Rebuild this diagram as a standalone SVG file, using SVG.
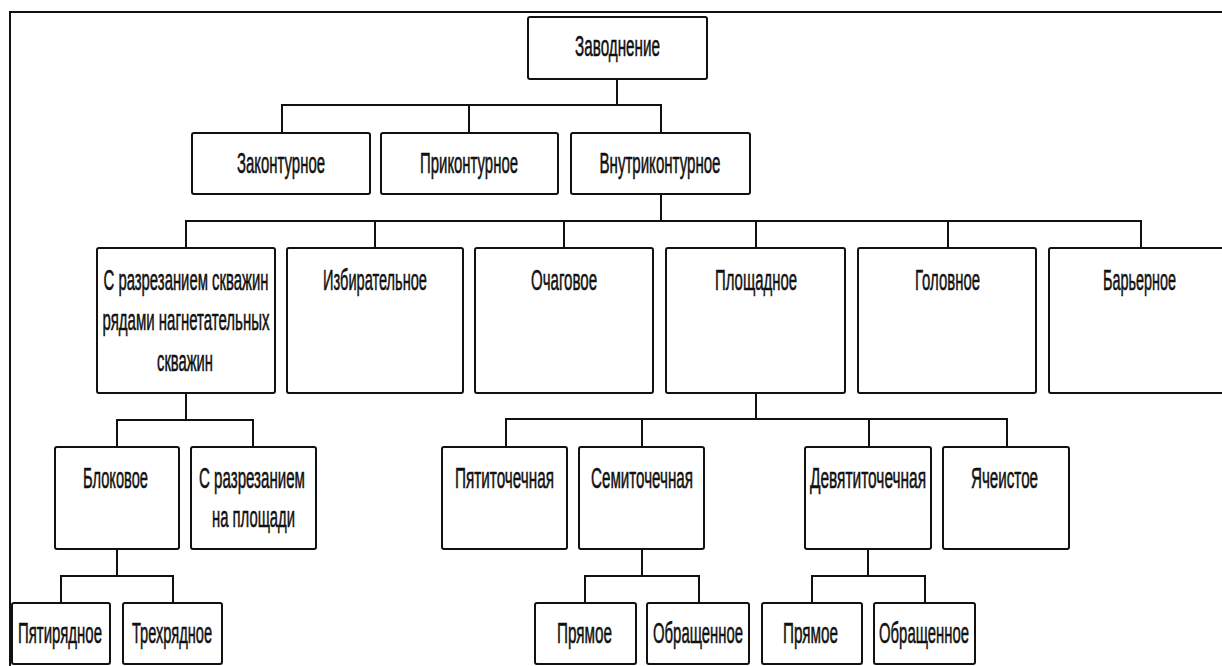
<svg xmlns="http://www.w3.org/2000/svg" width="1222" height="666" viewBox="0 0 1222 666">
<style>
.box{fill:#fff;stroke:#111;stroke-width:2}
.ln{fill:none;stroke:#111;stroke-width:2}
text{font-family:"Liberation Sans",Arial,sans-serif;font-size:30px;fill:#111;stroke:#111;stroke-width:0.6;text-anchor:middle}
</style>
<rect width="1222" height="666" fill="#fff"/>
<path class="ln" d="M10,666 V12 H1222"/>
<g id="connectors">
<path class="ln" d="M617,79 V105 M282,133 V105 H661 V133 M469,105 V133"/>
<path class="ln" d="M661,194 V221 M186,248 V221 H1141 V248 M375,221 V248 M564,221 V248 M756,221 V248 M948,221 V248"/>
<path class="ln" d="M186,393 V420 M117,447 V420 H253 V447"/>
<path class="ln" d="M756,393 V419 M506,447 V419 H1007 V447 M642,419 V447 M869,419 V447"/>
<path class="ln" d="M117,549 V576 M61,603 V576 H173 V603"/>
<path class="ln" d="M642,549 V576 M585,603 V576 H699 V603"/>
<path class="ln" d="M868,549 V576 M812,603 V576 H925 V603"/>
</g>
<g id="n-root"><rect class="box" x="528" y="17" width="179" height="62" rx="2"/><text transform="translate(617.5,56) scale(0.55,1)" textLength="154.5" lengthAdjust="spacingAndGlyphs">Заводнение</text></g>
<g id="n-zakont"><rect class="box" x="192" y="133" width="178" height="61" rx="2"/><text transform="translate(281,173) scale(0.55,1)" textLength="160" lengthAdjust="spacingAndGlyphs">Законтурное</text></g>
<g id="n-prikont"><rect class="box" x="381" y="133" width="177" height="61" rx="2"/><text transform="translate(469,173) scale(0.55,1)" textLength="178" lengthAdjust="spacingAndGlyphs">Приконтурное</text></g>
<g id="n-vnutr"><rect class="box" x="571" y="133" width="179" height="61" rx="2"/><text transform="translate(660,173) scale(0.55,1)" textLength="220" lengthAdjust="spacingAndGlyphs">Внутриконтурное</text></g>
<g id="n-razrez"><rect class="box" x="97" y="248" width="178" height="145" rx="2"/>
<text transform="translate(186,290) scale(0.55,1)" textLength="300" lengthAdjust="spacingAndGlyphs">С разрезанием скважин</text>
<text transform="translate(186,330) scale(0.55,1)" textLength="303.6" lengthAdjust="spacingAndGlyphs">рядами нагнетательных</text>
<text transform="translate(185,371) scale(0.55,1)" textLength="101.8" lengthAdjust="spacingAndGlyphs">скважин</text></g>
<g id="n-izbir"><rect class="box" x="287" y="248" width="176" height="145" rx="2"/><text transform="translate(375,290) scale(0.55,1)" textLength="189" lengthAdjust="spacingAndGlyphs">Избирательное</text></g>
<g id="n-ochag"><rect class="box" x="475" y="248" width="178" height="145" rx="2"/><text transform="translate(564,290) scale(0.55,1)" textLength="120" lengthAdjust="spacingAndGlyphs">Очаговое</text></g>
<g id="n-plosh"><rect class="box" x="666" y="248" width="179" height="145" rx="2"/><text transform="translate(756,290) scale(0.55,1)" textLength="149" lengthAdjust="spacingAndGlyphs">Площадное</text></g>
<g id="n-golov"><rect class="box" x="858" y="248" width="178" height="145" rx="2"/><text transform="translate(947.5,290) scale(0.55,1)" textLength="118" lengthAdjust="spacingAndGlyphs">Головное</text></g>
<g id="n-barer"><rect class="box" x="1049" y="248" width="180" height="145" rx="2"/><text transform="translate(1139.5,290) scale(0.55,1)" textLength="132.7" lengthAdjust="spacingAndGlyphs">Барьерное</text></g>
<g id="n-blok"><rect class="box" x="55" y="447" width="124" height="102" rx="2"/><text transform="translate(115.5,488) scale(0.55,1)" textLength="118" lengthAdjust="spacingAndGlyphs">Блоковое</text></g>
<g id="n-razrezpl"><rect class="box" x="191" y="447" width="125" height="102" rx="2"/>
<text transform="translate(252,488) scale(0.55,1)" textLength="192.7" lengthAdjust="spacingAndGlyphs">С разрезанием</text>
<text transform="translate(253.5,527) scale(0.55,1)" textLength="151" lengthAdjust="spacingAndGlyphs">на площади</text></g>
<g id="n-pyati"><rect class="box" x="442" y="447" width="125" height="102" rx="2"/><text transform="translate(504.5,488) scale(0.55,1)" textLength="180" lengthAdjust="spacingAndGlyphs">Пятиточечная</text></g>
<g id="n-semi"><rect class="box" x="579" y="447" width="125" height="102" rx="2"/><text transform="translate(642,488) scale(0.55,1)" textLength="185.5" lengthAdjust="spacingAndGlyphs">Семиточечная</text></g>
<g id="n-devyati"><rect class="box" x="805" y="447" width="126" height="102" rx="2"/><text transform="translate(868,488) scale(0.55,1)" textLength="211" lengthAdjust="spacingAndGlyphs">Девятиточечная</text></g>
<g id="n-yache"><rect class="box" x="943" y="447" width="126" height="102" rx="2"/><text transform="translate(1004.5,488) scale(0.55,1)" textLength="121.8" lengthAdjust="spacingAndGlyphs">Ячеистое</text></g>
<g id="n-pyatiryad"><rect class="box" x="12" y="603" width="98" height="61" rx="2"/><text transform="translate(60,643) scale(0.55,1)" textLength="152.7" lengthAdjust="spacingAndGlyphs">Пятирядное</text></g>
<g id="n-trehryad"><rect class="box" x="123" y="603" width="99" height="61" rx="2"/><text transform="translate(172,643) scale(0.55,1)" textLength="145.5" lengthAdjust="spacingAndGlyphs">Трехрядное</text></g>
<g id="n-pryamoe1"><rect class="box" x="535" y="603" width="101" height="61" rx="2"/><text transform="translate(584.5,643) scale(0.55,1)" textLength="100" lengthAdjust="spacingAndGlyphs">Прямое</text></g>
<g id="n-obrash1"><rect class="box" x="647" y="603" width="102" height="61" rx="2"/><text transform="translate(698,643) scale(0.55,1)" textLength="163.6" lengthAdjust="spacingAndGlyphs">Обращенное</text></g>
<g id="n-pryamoe2"><rect class="box" x="762" y="603" width="100" height="61" rx="2"/><text transform="translate(810.5,643) scale(0.55,1)" textLength="100" lengthAdjust="spacingAndGlyphs">Прямое</text></g>
<g id="n-obrash2"><rect class="box" x="874" y="603" width="101" height="61" rx="2"/><text transform="translate(924,643) scale(0.55,1)" textLength="163.6" lengthAdjust="spacingAndGlyphs">Обращенное</text></g>
</svg>
